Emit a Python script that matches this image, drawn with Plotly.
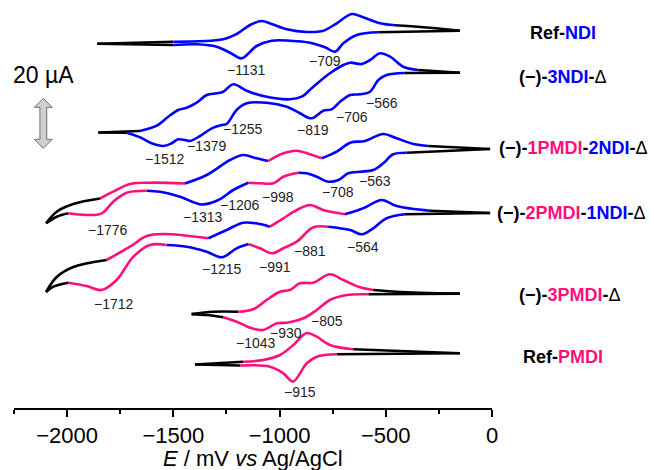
import plotly.graph_objects as go

# ---------------- data (E in mV vs Ag/AgCl, stacked current in display units; 50 units = 20 uA)
# colour code string: colour of the segment that starts at each point (k black, b NDI blue, p PMDI pink)

refndi_up_E = [-1858, -1500, -1265, -1202, -1139, -1084, -1037, -966, -872, -794, -731, -660, -606, -527, -457, -323, -151]
refndi_up_I = [364.2, 366.3, 368.7, 374, 383, 387, 384, 378.7, 376, 377.3, 384.7, 394, 390.7, 384.7, 382.7, 380.7, 377.2]
refndi_up_c = "k" + "b" * 13 + "kkk"
refndi_dn_E = [-151, -535, -637, -700, -739, -786, -857, -951, -1037, -1108, -1178, -1233, -1296, -1390, -1500, -1858]
refndi_dn_I = [377.2, 375.7, 373, 364.7, 356.3, 360.7, 365.3, 367.3, 367.3, 362, 349.7, 355.3, 361.3, 363.7, 363, 364.2]
refndi_dn_c = "k" + "b" * 13 + "kk"

ndi3_up_E = [-1853, -1657, -1578, -1524, -1477, -1437, -1390, -1343, -1296, -1265, -1218, -1155, -1077, -951, -896, -841, -763, -700, -668, -613, -574, -527, -480, -418, -347, -151]
ndi3_up_I = [275.5, 277, 282.3, 291.3, 298, 300.3, 305.3, 313, 314.7, 316.3, 323.7, 317.3, 312, 308.7, 311.3, 321.3, 334.7, 343, 345.3, 344, 348, 354.7, 351.3, 341.3, 338, 335.2]
ndi3_up_c = "k" + "b" * 23 + "kk"
ndi3_dn_E = [-151, -410, -496, -535, -574, -621, -668, -715, -755, -794, -849, -904, -966, -1061, -1155, -1202, -1249, -1272, -1319, -1374, -1422, -1445, -1477, -1508, -1547, -1602, -1657, -1720, -1853]
ndi3_dn_I = [335.2, 335, 333, 328, 316.3, 313.7, 313, 306.3, 298.7, 297.3, 289.7, 294.7, 301.3, 305.3, 304.7, 298, 284, 283, 279.7, 272, 267, 268, 268.7, 264.7, 262, 264.7, 270.7, 275.3, 275.5]
ndi3_dn_c = "k" + "b" * 26 + "kk"

p1n2_up_E = [-2099, -2049, -1971, -1845, -1783, -1704, -1610, -1445, -1343, -1233, -1171, -1108, -1053, -982, -919, -857, -802, -731, -668, -598, -512, -449, -370, -300, -9]
p1n2_up_I = [184.7, 196.3, 204, 209.5, 216.3, 224, 225.3, 224.5, 233, 248, 253, 249.7, 247, 254.7, 257.3, 253.7, 249.7, 256.3, 265.3, 267, 274, 269.7, 264, 262, 259]
p1n2_up_c = "kkk" + "pppp" + "bbbbb" + "pppp" + "bbbbbbb" + "kk"
p1n2_dn_E = [-9, -402, -465, -512, -559, -621, -676, -723, -771, -825, -872, -912, -982, -1029, -1092, -1147, -1218, -1288, -1366, -1469, -1563, -1625, -1720, -1783, -1837, -1908, -1994, -2049, -2099]
p1n2_dn_I = [259, 255.3, 253.7, 244.7, 238, 236.3, 234.7, 228, 226.3, 231.3, 234.7, 235.3, 231.3, 224.7, 224.7, 225.3, 218, 208, 203.5, 211.3, 216.3, 217.3, 215.3, 206.3, 194.7, 193, 194.7, 191.3, 184.7]
p1n2_dn_c = "k" + "b" * 10 + "pppp" + "b" * 6 + "p" * 5 + "kkk"

p2n1_up_E = [-2099, -2049, -1971, -1814, -1704, -1625, -1547, -1335, -1249, -1171, -1092, -1045, -982, -919, -857, -794, -692, -606, -519, -449, -292, -9]
p2n1_up_I = [116, 131, 141, 148, 161.3, 172, 174, 169.7, 178, 185.3, 184, 181.3, 189.7, 198, 203, 198, 193.7, 199.7, 208, 202, 197.3, 195]
p2n1_up_c = "kkk" + "pppp" + "bbbb" + "ppppp" + "bbbb" + "kk"
p2n1_dn_E = [-9, -410, -496, -559, -613, -668, -771, -841, -919, -982, -1037, -1092, -1147, -1202, -1272, -1343, -1437, -1531, -1610, -1688, -1767, -1837, -1908, -1994, -2065, -2099]
p2n1_dn_I = [195, 193.7, 189.7, 179.7, 173.7, 178, 181.3, 180.7, 166.3, 159.7, 154.7, 159.7, 164, 159.7, 150.7, 156.3, 161.3, 163, 163, 151.3, 128, 118, 122, 125.3, 121.3, 116]
p2n1_dn_c = "k" + "bbbbb" + "pppppp" + "bbbbb" + "pppppp" + "kkk"

pmdi3_up_E = [-1414, -1312, -1194, -1124, -1061, -998, -951, -904, -841, -763, -700, -621, -559, -449, -151]
pmdi3_up_I = [93.9, 96.3, 96.3, 98.7, 108, 116.3, 118, 124.7, 125.3, 133.7, 128, 120.7, 118, 116.3, 114.4]
pmdi3_up_c = "kk" + "p" * 10 + "kkk"
pmdi3_dn_E = [-151, -582, -684, -763, -825, -888, -966, -1013, -1077, -1131, -1202, -1265, -1343, -1414]
pmdi3_dn_I = [114.4, 113.7, 113, 108, 98, 89.7, 85.3, 84.7, 78, 79.7, 86.3, 90.7, 93, 93.9]
pmdi3_dn_c = "k" + "p" * 10 + "kkk"

refpmdi_up_E = [-1398, -1171, -1077, -998, -935, -872, -825, -763, -653, -151]
refpmdi_up_I = [43.5, 46.3, 48, 53, 63, 75, 71.3, 63, 58.7, 54.7]
refpmdi_up_c = "k" + "p" * 7 + "kk"
refpmdi_dn_E = [-151, -731, -825, -872, -937, -982, -1045, -1186, -1398]
refpmdi_dn_I = [54.7, 53.7, 51.3, 44.7, 26.5, 34.7, 41.3, 42.5, 43.5]
refpmdi_dn_c = "k" + "p" * 6 + "kk"

# peak potential labels
peak_text = ["\u22121131", "\u2212709", "\u22121512", "\u22121379", "\u22121255", "\u2212819", "\u2212706", "\u2212566",
             "\u22121776", "\u22121313", "\u22121206", "\u2212998", "\u2212708", "\u2212563",
             "\u22121712", "\u22121215", "\u2212991", "\u2212881", "\u2212564",
             "\u22121043", "\u2212930", "\u2212805", "\u2212915"]
peak_E = [-1158, -786, -1539, -1343, -1173, -844, -660, -519,
          -1806, -1359, -1186, -1006, -723, -551,
          -1778, -1272, -1021, -857, -606,
          -1111, -970, -778, -904]
peak_Y = [338, 347.3, 248.7, 262, 279, 278, 291.3, 305.3,
          178, 190.7, 203, 211.3, 215.7, 227,
          104, 138.7, 141.3, 157, 161.3,
          64.7, 75.3, 87.3, 16.3]

BLUE = "#0000FF"
PINK = "#FF0F7B"
COL = {"k": "#000000", "b": BLUE, "p": PINK}

# compound names: (text, y, x_paper, anchor)
names = [
    ("<b>Ref-<span style='color:%s'>NDI</span></b>" % BLUE, 374.7, 1.1475, "center"),
    ("<b>(\u2212)-<span style='color:%s'>3NDI</span>-</b>\u0394" % BLUE, 330.7, 1.1475, "center"),
    ("<b>(\u2212)-<span style='color:%s'>1PMDI</span>-<span style='color:%s'>2NDI</span>-</b>\u0394" % (PINK, BLUE), 259.7, 1.0098, "left"),
    ("<b>(\u2212)-<span style='color:%s'>2PMDI</span>-<span style='color:%s'>1NDI</span>-</b>\u0394" % (PINK, BLUE), 194.7, 1.0063, "left"),
    ("<b>(\u2212)-<span style='color:%s'>3PMDI</span>-</b>\u0394" % PINK, 113, 1.1632, "center"),
    ("<b>Ref-<span style='color:%s'>PMDI</span></b>" % PINK, 51.3, 1.1475, "center"),
]

branches = [
    (refndi_up_E, refndi_up_I, refndi_up_c), (refndi_dn_E, refndi_dn_I, refndi_dn_c),
    (ndi3_up_E, ndi3_up_I, ndi3_up_c), (ndi3_dn_E, ndi3_dn_I, ndi3_dn_c),
    (p1n2_up_E, p1n2_up_I, p1n2_up_c), (p1n2_dn_E, p1n2_dn_I, p1n2_dn_c),
    (p2n1_up_E, p2n1_up_I, p2n1_up_c), (p2n1_dn_E, p2n1_dn_I, p2n1_dn_c),
    (pmdi3_up_E, pmdi3_up_I, pmdi3_up_c), (pmdi3_dn_E, pmdi3_dn_I, pmdi3_dn_c),
    (refpmdi_up_E, refpmdi_up_I, refpmdi_up_c), (refpmdi_dn_E, refpmdi_dn_I, refpmdi_dn_c),
]

FONT = "Arial, Liberation Sans, sans-serif"
fig = go.Figure()

for E, I, c in branches:
    n = len(E)
    i0 = 0
    for i in range(1, n):
        if i == n - 1 or c[i] != c[i0]:
            fig.add_trace(go.Scatter(
                x=E[i0:i + 1], y=I[i0:i + 1], mode="lines",
                line=dict(color=COL[c[i0]], width=2.6, shape="spline", smoothing=1.0),
                hoverinfo="skip", showlegend=False))
            i0 = i

annotations = []
for t, e, y in zip(peak_text, peak_E, peak_Y):
    annotations.append(dict(x=e, y=y, xref="x", yref="y", text=t, showarrow=False,
                            font=dict(family=FONT, size=14, color="#222222"),
                            xanchor="center", yanchor="middle"))
for t, y, xp, anc in names:
    annotations.append(dict(x=xp, y=y, xref="paper", yref="y", text=t, showarrow=False,
                            font=dict(family=FONT, size=18, color="#000000"),
                            xanchor=anc, yanchor="middle"))

# scale bar (20 uA = 50 display units)
sb_E, sb_top, sb_bot = -2112, 309.7, 259.7
annotations.append(dict(x=sb_E, y=333, xref="x", yref="y", text="20 \u00b5A", showarrow=False,
                        font=dict(family=FONT, size=23, color="#000000"),
                        xanchor="center", yanchor="middle"))
annotations.append(dict(x=0.5, y=-0.123, xref="paper", yref="paper",
                        text="<i>E</i> / mV <i>vs</i> Ag/AgCl", showarrow=False,
                        font=dict(family=FONT, size=22, color="#000000"),
                        xanchor="center", yanchor="middle"))

hw, sw, hh = 42, 16, 9
pts = [(sb_E, sb_top), (sb_E + hw, sb_top - hh), (sb_E + sw, sb_top - hh), (sb_E + sw, sb_bot + hh),
       (sb_E + hw, sb_bot + hh), (sb_E, sb_bot), (sb_E - hw, sb_bot + hh), (sb_E - sw, sb_bot + hh),
       (sb_E - sw, sb_top - hh), (sb_E - hw, sb_top - hh)]
path = "M " + " L ".join("%g,%g" % p for p in pts) + " Z"

fig.update_layout(
    width=654, height=470,
    margin=dict(l=14, r=162, t=0, b=62),
    plot_bgcolor="white", paper_bgcolor="white",
    font=dict(family=FONT, color="#000000"),
    annotations=annotations,
    shapes=[dict(type="path", path=path, xref="x", yref="y",
                 fillcolor="#cfcfcf", line=dict(color="#6e6e6e", width=1))],
    xaxis=dict(range=[-2250, 0], showgrid=False, zeroline=False, showline=True,
               linecolor="black", linewidth=2, ticks="outside", ticklen=7, tickwidth=2,
               tickcolor="black", tickvals=[-2000, -1500, -1000, -500, 0],
               tickfont=dict(family=FONT, size=22, color="black"),
               minor=dict(ticks="outside", ticklen=4, tickwidth=2, tickcolor="black",
                          tickvals=[-2250, -1750, -1250, -750, -250])),
    yaxis=dict(range=[0, 408], visible=False, showgrid=False, zeroline=False),
)

fig.write_html("out.html")
